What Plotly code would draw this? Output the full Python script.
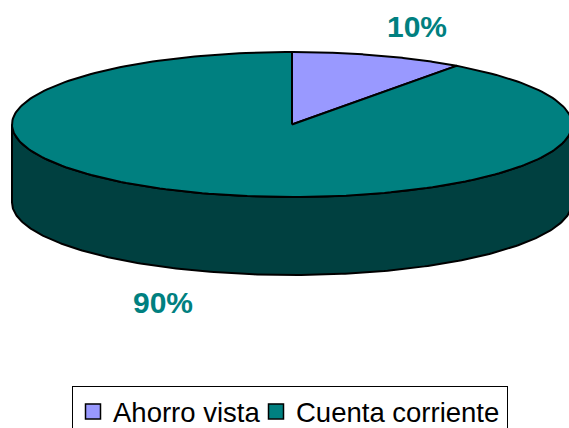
import numpy as np
import plotly.graph_objects as go

categories = ["Ahorro vista", "Cuenta corriente"]
values = [10, 90]
labels = ["10%", "90%"]
top_colors = ["#9999ff", "#008080"]
side_color = "#004040"
legend_widths = [138, 206]

W, H = 569, 428
cx, cy, rx, ry, depth = 292, 124.5, 280, 72.5, 78


def rim(a0, a1, dy=0.0, n=240):
    t = np.radians(np.linspace(a0, a1, n))
    return cx + rx * np.sin(t), cy + dy - ry * np.cos(t)


fig = go.Figure()

# wall: visible front half of the cylinder
xa, ya = rim(90, 270)
xb, yb = rim(270, 90, depth)
fig.add_trace(go.Scatter(
    x=np.r_[xa, xb, xa[0]], y=np.r_[ya, yb, ya[0]], mode="lines", fill="toself",
    fillcolor=side_color, line=dict(color="black", width=2), showlegend=False, hoverinfo="skip"))

# top face slices, angles derived from the values
total = sum(values)
start = 0.0
for name, v, c in zip(categories, values, top_colors):
    end = start + 360.0 * v / total
    xs, ys = rim(start, end)
    fig.add_trace(go.Scatter(
        x=np.r_[cx, xs, cx], y=np.r_[cy, ys, cy], mode="lines", fill="toself",
        fillcolor=c, line=dict(color="black", width=2), showlegend=False, name=name))
    start = end

# legend entries
for name, c, lw in zip(categories, top_colors, legend_widths):
    fig.add_trace(go.Scatter(
        x=[None], y=[None], mode="markers", name=name, legendwidth=lw,
        marker=dict(symbol="square", size=15, color=c, line=dict(color="black", width=1.5))))

fig.add_annotation(x=417, y=26, text=labels[0], showarrow=False,
                   font=dict(family="Liberation Sans", size=30, color="#008080", weight="bold"))
fig.add_annotation(x=163, y=302, text=labels[1], showarrow=False,
                   font=dict(family="Liberation Sans", size=30, color="#008080", weight="bold"))

fig.update_layout(
    width=W, height=H, margin=dict(l=0, r=0, t=0, b=0, autoexpand=False),
    paper_bgcolor="white", plot_bgcolor="white", showlegend=True,
    xaxis=dict(range=[0, W], visible=False, fixedrange=True),
    yaxis=dict(range=[H, 0], visible=False, fixedrange=True),
    legend=dict(orientation="h", x=72 / W, y=1 - 386 / H, xanchor="left", yanchor="top",
                bgcolor="white", bordercolor="black", borderwidth=1,
                font=dict(family="Liberation Sans", size=27.5, color="black"),
                itemwidth=30, tracegroupgap=0),
)
fig.write_html("out.html", config={"displayModeBar": False},
               post_script="document.body.style.margin='0';document.body.style.overflow='hidden';")
